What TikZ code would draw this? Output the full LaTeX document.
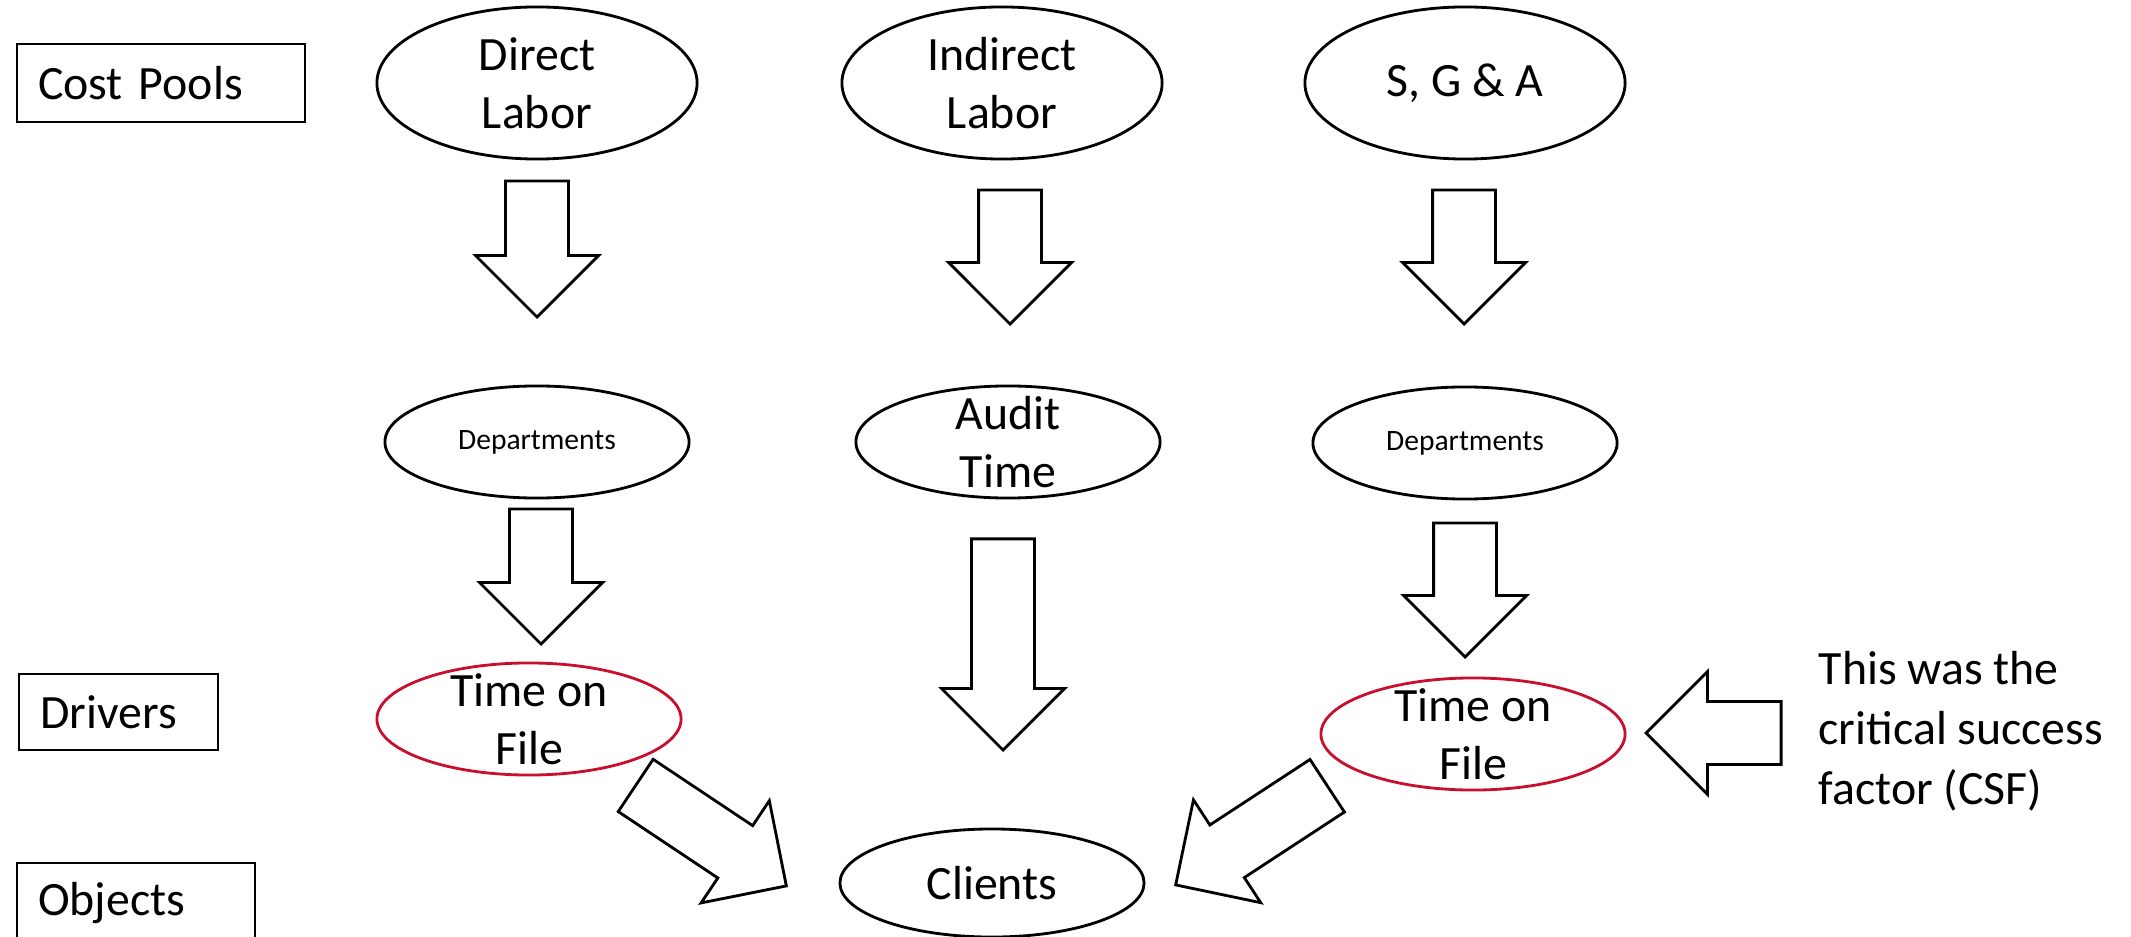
\documentclass[tikz,border=0pt]{standalone}
\usepackage{fontspec}
\setmainfont{Carlito}
\usepackage{tikz}
\usetikzlibrary{shapes.geometric, shapes.arrows}
\definecolor{csfred}{RGB}{200,16,46}
\tikzstyle{pool} = [ellipse, draw, line width=0.8pt, minimum width=3.2cm, minimum height=1.52cm, inner sep=0pt]
\tikzstyle{driver} = [pool, minimum width=3.04cm, minimum height=1.12cm]
\tikzstyle{level} = [rectangle, draw, line width=0.6pt, anchor=north west, align=left, inner xsep=0.21cm]
\tikzstyle{blockarrow} = [single arrow, draw, line width=0.8pt, anchor=tip, inner sep=0.3cm, minimum width=1.2cm, single arrow head extend=0.3cm]

\begin{document}
\begin{tikzpicture}[x=0.01cm, y=-0.01cm, font=\fontsize{13.6}{16.6}\selectfont]
	\useasboundingbox (0,0) rectangle (2131,937);
	\clip (0,0) rectangle (2131,937);
	% levels on the left
	\node[level, text width=2.46cm, minimum height=0.78cm] (costpools) at (16,43) {Cost Pools};
	\node[level, text width=1.57cm, minimum height=0.76cm] (drivers) at (18,673) {Drivers};
	\node[level, text width=1.96cm, minimum height=0.8cm] (objects) at (16,862) {Objects};
	% cost pools
	\node[pool, label={[align=center]center:Direct\\Labor}] (dlabor) at (537,83) {};
	\node[pool, label={[align=center]center:Indirect\\Labor}] (ilabor) at (1002,83) {};
	\node[pool, label={center:{S, G \& A}}] (sga) at (1465,83) {};
	% drivers
	\node[driver, label={[font=\fontsize{8.4}{10}\selectfont]center:Departments}] (deptl) at (537,442) {};
	\node[driver, label={[align=center]center:Audit\\Time}] (audit) at (1008,442) {};
	\node[driver, label={[font=\fontsize{8.4}{10}\selectfont]center:Departments}] (deptr) at (1465,443) {};
	\node[driver, draw=csfred, label={[align=center]center:Time on\\File}] (filel) at (529,719) {};
	\node[driver, draw=csfred, label={[align=center]center:Time on\\File}] (filer) at (1473,734) {};
	% object
	\node[driver, minimum height=1.08cm, label={center:Clients}] (clients) at (992,883) {};
	\node[anchor=west, align=left, inner sep=0pt, font=\fontsize{13.6}{17}\selectfont] (csf) at (1818,731) {This was the\\critical success\\factor (CSF)};
	% block arrows
	\node[blockarrow, rotate=-90, minimum height=1.36cm] (a1) at (537,319) {};
	\node[blockarrow, rotate=-90, minimum height=1.34cm] (a2) at (1010,326) {};
	\node[blockarrow, rotate=-90, minimum height=1.34cm] (a3) at (1464,326) {};
	\node[blockarrow, rotate=-90, minimum height=1.35cm] (a4) at (541,646) {};
	\node[blockarrow, rotate=-90, minimum height=2.11cm] (a5) at (1003,752) {};
	\node[blockarrow, rotate=-90, minimum height=1.34cm] (a6) at (1465,659) {};
	\node[blockarrow, rotate=180, minimum height=1.35cm] (a7) at (1644,733) {};
	\node[blockarrow, rotate=-33.7, minimum height=1.81cm] (a8) at (788,887) {};
	\node[blockarrow, rotate=-146.8, minimum height=1.81cm] (a9) at (1174,886) {};
\end{tikzpicture}
\end{document}
